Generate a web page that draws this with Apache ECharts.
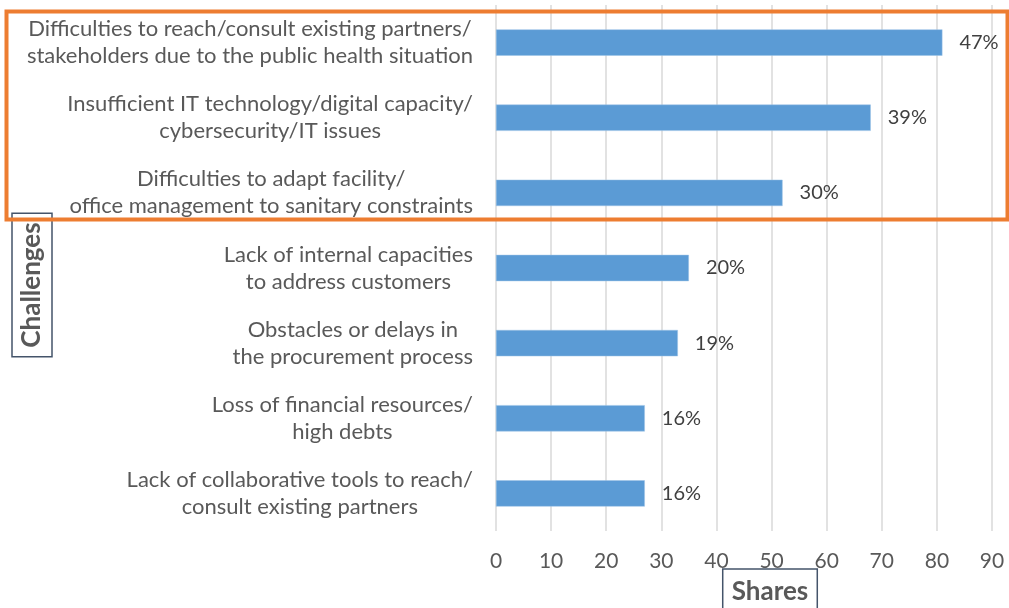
<!DOCTYPE html>
<html>
<head>
<meta charset="utf-8">
<script src="https://cdn.jsdelivr.net/npm/echarts@6/dist/echarts.min.js"></script>
<style>
  html, body { margin: 0; padding: 0; background: #fff; }
  #main { width: 1009px; height: 608px; }
</style>
</head>
<body>
<div id="main"></div>
<script>
// categories, top to bottom
var challenges = [
    'Difficulties to reach/consult existing partners/\nstakeholders due to the public health situation',
    'Insufficient IT technology/digital capacity/\ncybersecurity/IT issues',
    'Difficulties to adapt facility/\noffice management to sanitary constraints',
    'Lack of internal capacities\nto address customers',
    'Obstacles or delays in\nthe procurement process',
    'Loss of financial resources/\nhigh debts',
    'Lack of collaborative tools to reach/\nconsult existing partners'
];
// bar lengths as drawn on the 0-90 axis
var shareValues = [81, 68, 52, 35, 33, 27, 27];
// labels shown next to the bars
var shareLabels = ['47%', '39%', '30%', '20%', '19%', '16%', '16%'];

var textColor = '#595959';
var font = 'Lato';

var myChart = echarts.init(document.getElementById('main'));

var titleStyle = {
    fontFamily: font,
    fontSize: 26,
    fontWeight: 'bold',
    fill: textColor,
    align: 'center',
    verticalAlign: 'middle',
    borderColor: '#44546A',
    borderWidth: 1.5
};

var option = {
    backgroundColor: '#ffffff',
    grid: {
        left: 496,
        right: 17,
        top: 5,
        bottom: 77,
        outerBoundsMode: 'none'
    },
    xAxis: {
        type: 'value',
        min: 0,
        max: 90,
        interval: 10,
        axisLine: { show: false },
        axisTick: { show: false },
        axisLabel: {
            color: textColor,
            fontFamily: font,
            fontSize: 21,
            margin: 20
        },
        splitLine: {
            lineStyle: { color: '#d9d9d9', width: 1.5 }
        }
    },
    yAxis: {
        type: 'category',
        inverse: true,
        data: challenges,
        axisLine: { show: false },
        axisTick: { show: false },
        axisLabel: {
            margin: 23,
            align: 'right',
            formatter: function (value) {
                return value.split('\n').map(function (line) {
                    return '{c|' + line + '}';
                }).join('\n');
            },
            rich: {
                c: {
                    align: 'center',
                    color: textColor,
                    fontFamily: font,
                    fontSize: 22,
                    lineHeight: 27
                }
            }
        }
    },
    series: [{
        type: 'bar',
        data: shareValues,
        barCategoryGap: '65%',
        itemStyle: {
            color: '#5B9BD5',
            borderColor: '#9DC3E6',
            borderWidth: 0.5
        },
        label: {
            show: true,
            position: 'right',
            distance: 17,
            color: '#404040',
            fontFamily: font,
            fontSize: 20,
            formatter: function (p) {
                return shareLabels[p.dataIndex];
            }
        }
    }],
    graphic: [
        // axis titles in their boxes
        {
            type: 'text',
            x: 32,
            y: 285,
            rotation: Math.PI / 2,
            style: Object.assign({ text: 'Challenges', padding: [7, 9, 7, 9] }, titleStyle)
        },
        {
            type: 'text',
            x: 770,
            y: 592,
            style: Object.assign({ text: 'Shares', padding: [8, 9, 12, 9] }, titleStyle)
        },
        // orange highlight frame round the top three challenges
        {
            type: 'rect',
            left: 4,
            top: 9,
            shape: { width: 1001, height: 208 },
            style: { fill: 'none', stroke: '#ED7D31', lineWidth: 4 },
            z: 100
        }
    ]
};

myChart.setOption(option);
</script>
</body>
</html>
